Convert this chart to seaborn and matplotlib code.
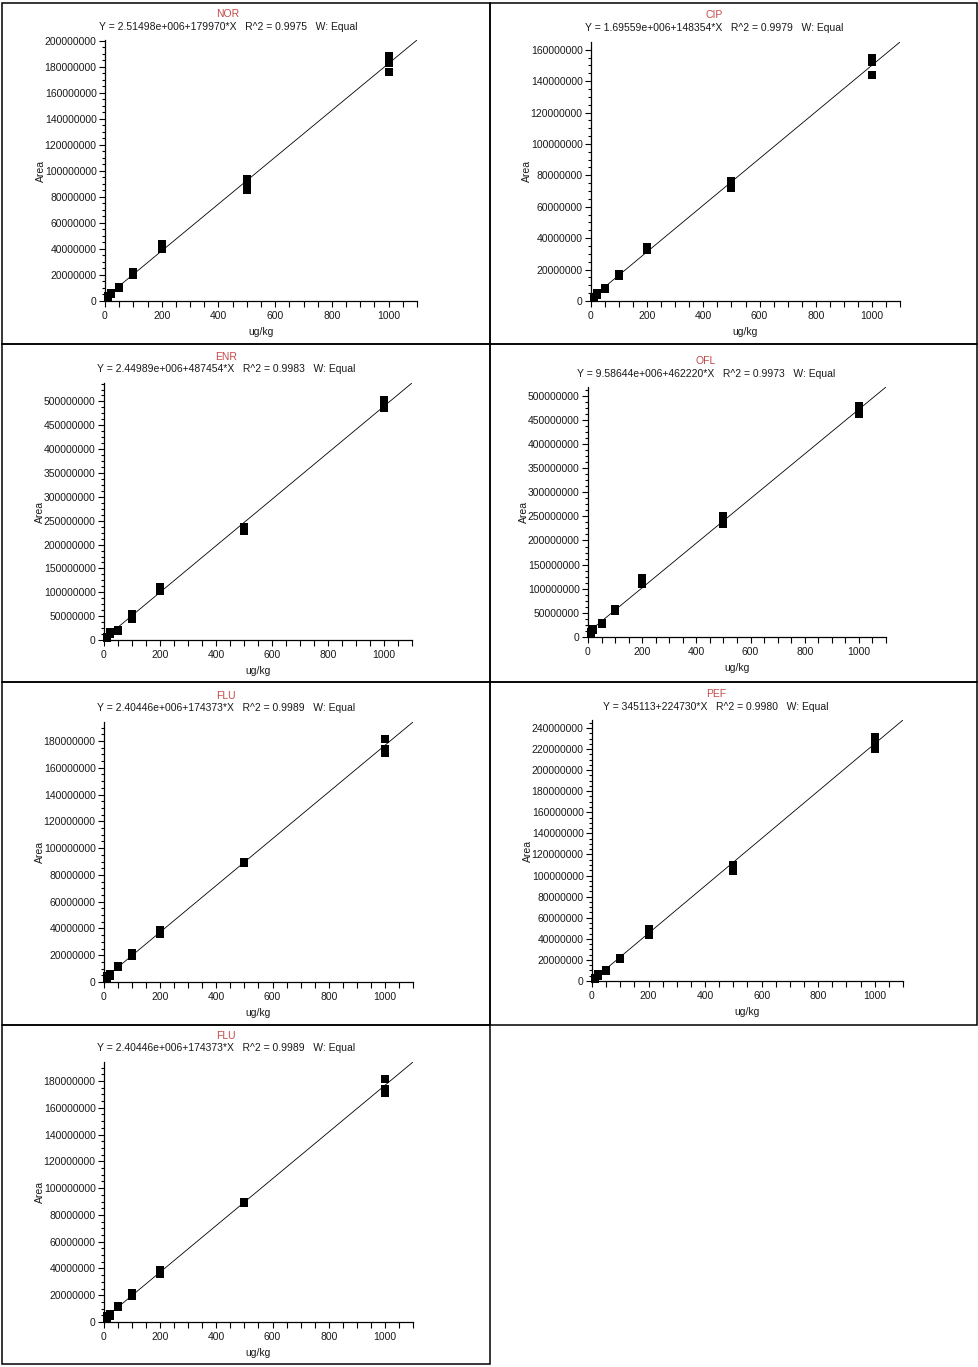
import numpy as np
import pandas as pd
import matplotlib
matplotlib.use("Agg")
import matplotlib.pyplot as plt
import seaborn as sns
from matplotlib.ticker import MultipleLocator, AutoMinorLocator, FuncFormatter
from matplotlib.patches import Rectangle

# ---------------- data ----------------
compounds = ["NOR", "CIP", "ENR", "OFL", "FLU", "PEF", "FLU"]
intercepts = [2.51498e6, 1.69559e6, 2.44989e6, 9.58644e6, 2.40446e6, 345113, 2.40446e6]
slopes = [179970, 148354, 487454, 462220, 174373, 224730, 174373]
equations = [
    "Y = 2.51498e+006+179970*X   R^2 = 0.9975   W: Equal",
    "Y = 1.69559e+006+148354*X   R^2 = 0.9979   W: Equal",
    "Y = 2.44989e+006+487454*X   R^2 = 0.9983   W: Equal",
    "Y = 9.58644e+006+462220*X   R^2 = 0.9973   W: Equal",
    "Y = 2.40446e+006+174373*X   R^2 = 0.9989   W: Equal",
    "Y = 345113+224730*X   R^2 = 0.9980   W: Equal",
    "Y = 2.40446e+006+174373*X   R^2 = 0.9989   W: Equal",
]
conc = [10, 10, 10, 20, 20, 20, 50, 50, 50, 100, 100, 100,
        200, 200, 200, 500, 500, 500, 1000, 1000, 1000]
# areas in millions
nor_area = [3.0, 3.3, 3.6, 5.0, 5.4, 5.8, 10.0, 10.2, 10.5, 20.0, 21.2, 22.5,
            39.7, 41.8, 43.8, 85.3, 89.5, 93.5, 176.0, 183.1, 188.5]
cip_area = [2.0, 2.3, 2.5, 4.0, 4.3, 4.8, 7.8, 8.0, 8.2, 15.9, 16.5, 17.1,
            32.4, 33.5, 34.5, 72.2, 74.3, 76.4, 143.7, 152.4, 154.5]
enr_area = [4.0, 5.0, 6.0, 13.0, 14.5, 16.0, 19.0, 20.0, 21.0, 45.0, 49.0, 53.6,
            102.0, 106.5, 111.0, 229.0, 232.5, 236.0, 486.0, 488.0, 504.0]
ofl_area = [8.0, 9.7, 11.0, 15.5, 16.5, 17.5, 27.0, 28.5, 29.5, 54.0, 57.0, 59.0,
            109.5, 116.0, 122.6, 234.0, 236.0, 250.7, 462.0, 470.0, 479.0]
flu_area = [3.2, 3.7, 4.2, 4.8, 5.2, 5.8, 11.0, 11.4, 11.8, 19.6, 20.8, 22.0,
            35.9, 37.4, 38.9, 89.0, 89.4, 89.8, 171.3, 173.8, 181.7]
pef_area = [2.2, 2.8, 3.2, 5.2, 5.7, 6.2, 9.5, 9.8, 10.2, 21.3, 21.7, 22.2,
            44.1, 46.7, 49.4, 103.9, 106.5, 109.6, 220.5, 227.7, 231.5]
areas = [nor_area, cip_area, enr_area, ofl_area, flu_area, pef_area, flu_area]
y_major_step = [20e6, 20e6, 50e6, 50e6, 20e6, 20e6, 20e6]
x_max = 1100

# ---------------- layout (pixels) ----------------
W, H = 979, 1367
cells = [(2, 3, 490, 344), (490, 3, 977, 344),
         (2, 344, 490, 682), (490, 344, 977, 682),
         (2, 682, 490, 1025), (490, 682, 977, 1025),
         (2, 1025, 490, 1364)]
axes_px = [(105, 40, 417, 301), (591, 42, 900, 301),
           (104, 383, 412, 640), (588, 387, 886, 637),
           (104, 722, 413, 982), (592, 720, 903, 981),
           (104, 1062, 413, 1322)]
text_px = [(228, 14, 27), (714, 15, 28), (226, 357, 369), (706, 361, 374),
           (226, 696, 708), (716, 694, 707), (226, 1036, 1048)]

sns.set_theme(style="white")
plt.rcParams['font.family'] = ['Liberation Sans', 'DejaVu Sans']

fig = plt.figure(figsize=(W / 100, H / 100), dpi=100)
fig.patch.set_facecolor("white")

def fx(x):
    return x / W

def fy(y):
    return 1 - y / H

# panel borders
for (x0, y0, x1, y1) in cells:
    fig.patches.append(Rectangle((fx(x0), fy(y1)), fx(x1) - fx(x0), fy(y0) - fy(y1),
                                 transform=fig.transFigure, fill=False,
                                 edgecolor="black", linewidth=1.1))

tick_color = "#1a1a1a"
title_color = "#c44848"

for i, name in enumerate(compounds):
    l, t, r, b = axes_px[i]
    ax = fig.add_axes([fx(l), fy(b), fx(r) - fx(l), fy(t) - fy(b)])
    ax.set_facecolor("white")
    df = pd.DataFrame({"conc": conc, "area": np.array(areas[i]) * 1e6})
    xs = np.array([0, x_max])
    fit = pd.DataFrame({"x": xs, "y": intercepts[i] + slopes[i] * xs})
    sns.lineplot(data=fit, x="x", y="y", ax=ax, color="black", linewidth=0.6)
    sns.scatterplot(data=df, x="conc", y="area", ax=ax, marker="s", s=30,
                    color="black", linewidth=0, legend=False, clip_on=False, zorder=3)
    ax.set_xlim(0, x_max)
    ax.set_ylim(0, intercepts[i] + slopes[i] * x_max)
    ax.xaxis.set_major_locator(MultipleLocator(200))
    ax.xaxis.set_minor_locator(MultipleLocator(50))
    ax.yaxis.set_major_locator(MultipleLocator(y_major_step[i]))
    ax.yaxis.set_minor_locator(AutoMinorLocator(4))
    ax.yaxis.set_major_formatter(FuncFormatter(lambda v, p: f"{int(round(v))}"))
    ax.xaxis.set_major_formatter(FuncFormatter(lambda v, p: f"{int(round(v))}"))
    for s in ["top", "right"]:
        ax.spines[s].set_visible(False)
    for s in ["left", "bottom"]:
        ax.spines[s].set_color("black")
        ax.spines[s].set_linewidth(0.9)
    ax.tick_params(axis="both", which="both", direction="out", color="black",
                   width=0.8, labelsize=7.5, labelcolor=tick_color,
                   bottom=True, left=True, top=False, right=False)
    ax.tick_params(axis="y", which="major", length=4.5, pad=1.5)
    ax.tick_params(axis="y", which="minor", length=2.5)
    ax.tick_params(axis="x", which="major", length=4.5, pad=3)
    ax.tick_params(axis="x", which="minor", length=4)
    ax.set_xlabel("")
    ax.set_ylabel("")
    # labels
    fig.text(fx(l - 64), fy((t + b) / 2), "Area", rotation=90, ha="center",
             va="center", fontsize=7.5, color=tick_color)
    fig.text(fx((l + r) / 2), fy(b + 31), "ug/kg", ha="center", va="center",
             fontsize=7.5, color=tick_color)
    cx, ty, ey = text_px[i]
    fig.text(fx(cx), fy(ty), name, ha="center", va="center", fontsize=7.5,
             color=title_color)
    fig.text(fx(cx), fy(ey), equations[i], ha="center", va="center", fontsize=7.5,
             color=tick_color)

fig.savefig("out.png", dpi=100, facecolor="white")
